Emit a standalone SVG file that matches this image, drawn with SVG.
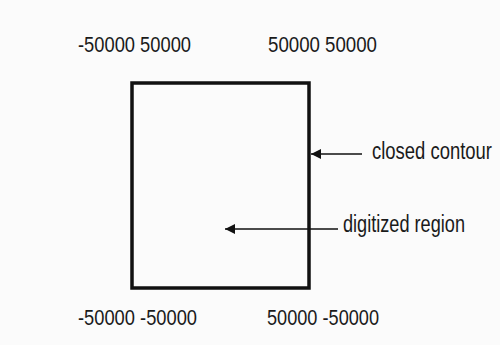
<svg xmlns="http://www.w3.org/2000/svg" width="500" height="345" viewBox="0 0 500 345">
<style>
text{font-family:"Liberation Sans",Arial,sans-serif;font-size:21.5px;fill:#1a1a1a}
.l{font-size:23.5px}
.c{stroke:#111;stroke-width:1.5;fill:none}
</style>
<defs>
<marker id="ah" markerWidth="10" markerHeight="10" refX="10" refY="5" orient="auto" markerUnits="userSpaceOnUse">
<path d="M0,0 L10,5 L0,10 Z" fill="#111"/>
</marker>
</defs>
<rect width="500" height="345" fill="#fbfbfb"/>
<g id="region">
<rect x="132" y="83" width="177" height="205" fill="none" stroke="#111" stroke-width="3.5"/>
</g>
<g id="labels">
<text x="78" y="52" textLength="113" lengthAdjust="spacingAndGlyphs">-50000 50000</text>
<text x="268" y="52" textLength="109" lengthAdjust="spacingAndGlyphs">50000 50000</text>
<text x="78" y="325" textLength="119" lengthAdjust="spacingAndGlyphs">-50000 -50000</text>
<text x="267" y="325" textLength="112" lengthAdjust="spacingAndGlyphs">50000 -50000</text>
</g>
<g id="closed-contour"><text class="l" x="372" y="158.5" textLength="120" lengthAdjust="spacingAndGlyphs">closed contour</text></g>
<g id="digitized-region"><text class="l" x="343" y="231.5" textLength="122" lengthAdjust="spacingAndGlyphs">digitized region</text></g>
<g id="connectors">
<line class="c" x1="362" y1="154" x2="311" y2="154" marker-end="url(#ah)"/>
<line class="c" x1="338" y1="229" x2="225" y2="229" marker-end="url(#ah)"/>
</g>
</svg>
